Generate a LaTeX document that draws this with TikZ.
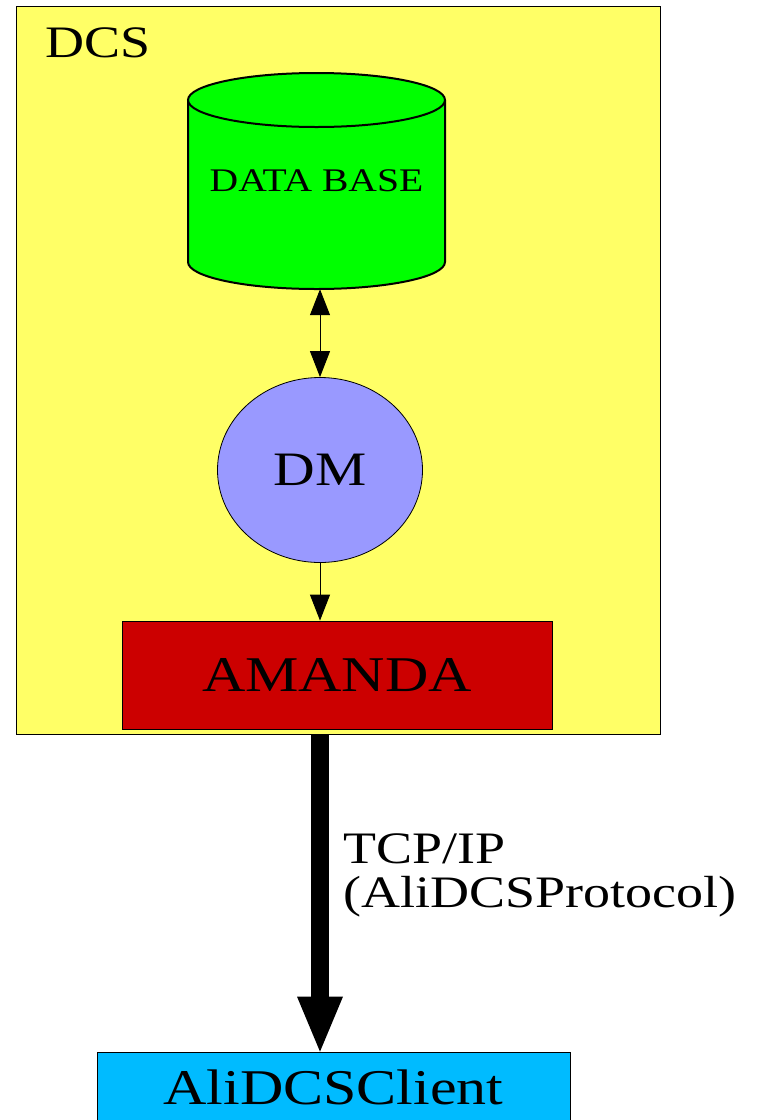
\documentclass[tikz,border=0pt]{standalone}
\usepackage{fontspec}
\setmainfont{Liberation Serif}[FakeStretch=1.2]
\usetikzlibrary{arrows.meta,shapes.geometric}
\definecolor{dcsyellow}{HTML}{FFFF66}
\definecolor{dbgreen}{HTML}{00FF00}
\definecolor{dmblue}{HTML}{9999FF}
\definecolor{amandared}{HTML}{CC0000}
\definecolor{clientblue}{HTML}{00BBFF}
\newcommand{\fsz}[1]{\fontsize{#1}{#1}\selectfont}
\begin{document}
\begin{tikzpicture}[x=1pt, y=-1pt,
		thin line/.style={line width=0.8pt},
		box/.style={draw, thin line, inner sep=0pt},
		small tip/.style={>={Triangle[length=26pt,width=20pt]}, line width=1pt}]
		\useasboundingbox (0,0) rectangle (764,1120);

		%DCS frame
		\node[box, fill=dcsyellow, minimum width=644pt, minimum height=728pt] (dcs) at (338,370) {};
		\node[anchor=base west, inner sep=0pt, font=\fsz{45}] (dcslabel) at (45,57) {DCS};

		%data base cylinder
		\node[minimum width=257pt, minimum height=216pt, inner sep=0pt] (db) at (316.5,181) {};
		\filldraw[fill=dbgreen, line width=2pt] (188,100) -- (188,262)
			arc[start angle=180, end angle=360, x radius=128.5, y radius=-27] -- (445,100);
		\filldraw[fill=dbgreen, line width=2pt] (316.5,100) ellipse[x radius=128.5, y radius=27];
		\node[font=\fsz{33}, inner sep=0pt] (dbtext) at (316.5,181) {DATA BASE};

		%DM
		\node[ellipse, box, fill=dmblue, minimum width=205pt, minimum height=185pt, font=\fsz{48}] (dm) at (320,470) {DM};

		%AMANDA
		\node[box, fill=amandared, minimum width=430pt, minimum height=108pt, font=\fsz{50}] (amanda) at (337,675) {AMANDA};

		%client
		\node[box, fill=clientblue, minimum width=473pt, minimum height=70pt, font=\fsz{50}] (client) at (333.5,1087) {AliDCSClient};

		\draw[small tip, <->] (dm.north |- db.south) -- (dm.north);
		\draw[small tip, ->] (dm.south) -- (dm.south |- amanda.north);

		%TCP/IP link
		\draw[line width=18pt, -{Triangle[length=55pt,width=46pt,line width=0pt]}] (dm.south |- dcs.south) -- (dm.south |- client.north);
		\node[anchor=base west, inner sep=0pt, font=\fsz{45}] (tcp) at (343,863) {TCP/IP};
		\node[anchor=base west, inner sep=0pt, font=\fsz{45}] (proto) at (343,907) {(AliDCSProtocol)};

	\end{tikzpicture}
\end{document}
